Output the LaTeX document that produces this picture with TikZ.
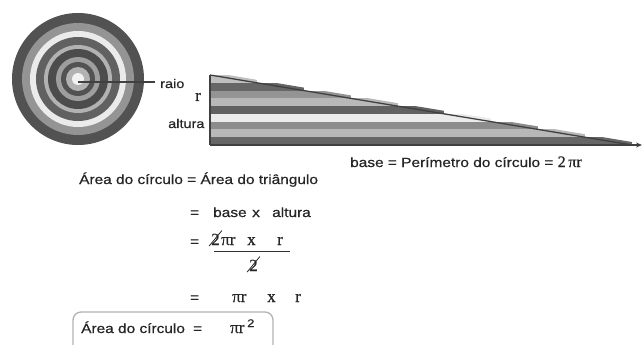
\documentclass[tikz,border=0pt]{standalone}
\usepackage{fontspec}
\setmainfont{Liberation Sans}[FakeStretch=1.16,FakeBold=0.6]
\newfontfamily\mserif{Liberation Serif}[FakeBold=0.6]
\usetikzlibrary{arrows.meta}
\begin{document}
\begin{tikzpicture}[x=1pt,y=-1pt,
  txt/.style={inner sep=0pt, anchor=base west, text=black!85, font=\fontsize{13.3}{15}\selectfont},
  mth/.style={inner sep=0pt, anchor=base west, text=black!85, font=\mserif\fontsize{17}{19}\selectfont},
  lbl/.style={inner sep=0pt, anchor=base west, text=black!85, font=\fontsize{12.5}{14}\selectfont},
  darkline/.style={draw=black!75, line width=1.3pt},
  cancel/.style={draw=black!85, line width=0.8pt}]
\useasboundingbox (0,0) rectangle (643,345);
% ---- concentric circle
\coordinate (cc) at (78,79);
\foreach \r/\c in {66/black!68, 56/black!42, 48/black!8, 42/black!62, 34/black!30, 30/black!70, 22/black!38, 17/black!68, 12/black!30, 6/black!5}
  \fill[\c] (cc) circle[radius=\r pt];
\coordinate (ls) at (78,82);
\coordinate (le) at (155,82);
\draw[black!75, line width=2.5pt] (ls) -- (le);
% ---- unrolled strips (triangle)
\coordinate (tA) at (210,75);
\coordinate (tB) at (210,145);
\coordinate (tC) at (632,145);
\coordinate (tD) at (642,145);
\begin{scope}
  \clip (210,72) -- (632,142) -- (632,145) -- (210,145) -- cycle;
  \foreach \i/\c in {0/black!25,1/black!60,2/black!42,3/black!28,4/black!62,5/black!8,6/black!45,7/black!28,8/black!60} {
    \pgfmathsetmacro\yt{75+\i*7.7778}
    \pgfmathsetmacro\yb{75+(\i+1)*7.7778}
    \pgfmathsetmacro\xe{210+(\yb-75)*6.0286}
    \fill[\c] (210,\yt) rectangle (\xe,\yb);
  }
\end{scope}
\draw[darkline] (tA) -- (tC);
\draw[darkline] (tA) -- (tB);
\draw[darkline, -{Stealth[length=6pt,width=5pt]}] (tB) -- (tD);
% ---- labels
\node[lbl] (raio) at (160,88) {raio};
\node[mth] (rr) at (195,101) {r};
\node[lbl] (alt) at (168,128) {altura};
\node[txt] (base) at (350,167) {base = Perímetro do círculo = {\mserif\fontsize{16}{18}\selectfont 2\,πr}};
% ---- equations
\node[txt] (l1) at (79,184) {Área do círculo = Área do triângulo};
\node[txt] (e2) at (190,217) {=};
\node[txt] (b2) at (213,217) {base};
\node[txt] (x2) at (252,217) {x};
\node[txt] (a2) at (272,217) {altura};
\node[txt] (e3) at (190,246) {=};
\node[mth] (n2) at (211,245) {2};
\node[mth] (npr) at (221,245) {πr};
\node[mth] (nx) at (247,245) {x};
\node[mth] (nr) at (277,245) {r};
\coordinate (fl) at (214,251);
\coordinate (fr) at (290,251);
\draw[black!80, line width=0.8pt] (fl) -- (fr);
\node[mth] (d2) at (249,271) {2};
\draw[cancel] ([xshift=-2pt,yshift=-1pt]n2.south west) -- ([xshift=2pt,yshift=3pt]n2.north east);
\draw[cancel] ([xshift=-2pt,yshift=-1pt]d2.south west) -- ([xshift=2pt,yshift=3pt]d2.north east);
\node[txt] (e4) at (190,302) {=};
\node[mth] (p4) at (232,302) {πr};
\node[mth] (x4) at (267,302) {x};
\node[mth] (r4) at (295,302) {r};
% ---- boxed result
\coordinate (bx1) at (73,345);
\coordinate (bx2) at (73,312);
\coordinate (bx3) at (273,312);
\coordinate (bx4) at (273,345);
\draw[gray!60, line width=1.3pt, rounded corners=8pt] (bx1) -- (bx2) -- (bx3) -- (bx4);
\node[txt] (f1) at (81,333) {Área do círculo};
\node[txt] (f2) at (193,333) {=};
\node[mth] (f3) at (230,333) {πr\,\raisebox{6pt}{\rmfamily\fontsize{11}{12}\selectfont 2}};
\end{tikzpicture}
\end{document}
